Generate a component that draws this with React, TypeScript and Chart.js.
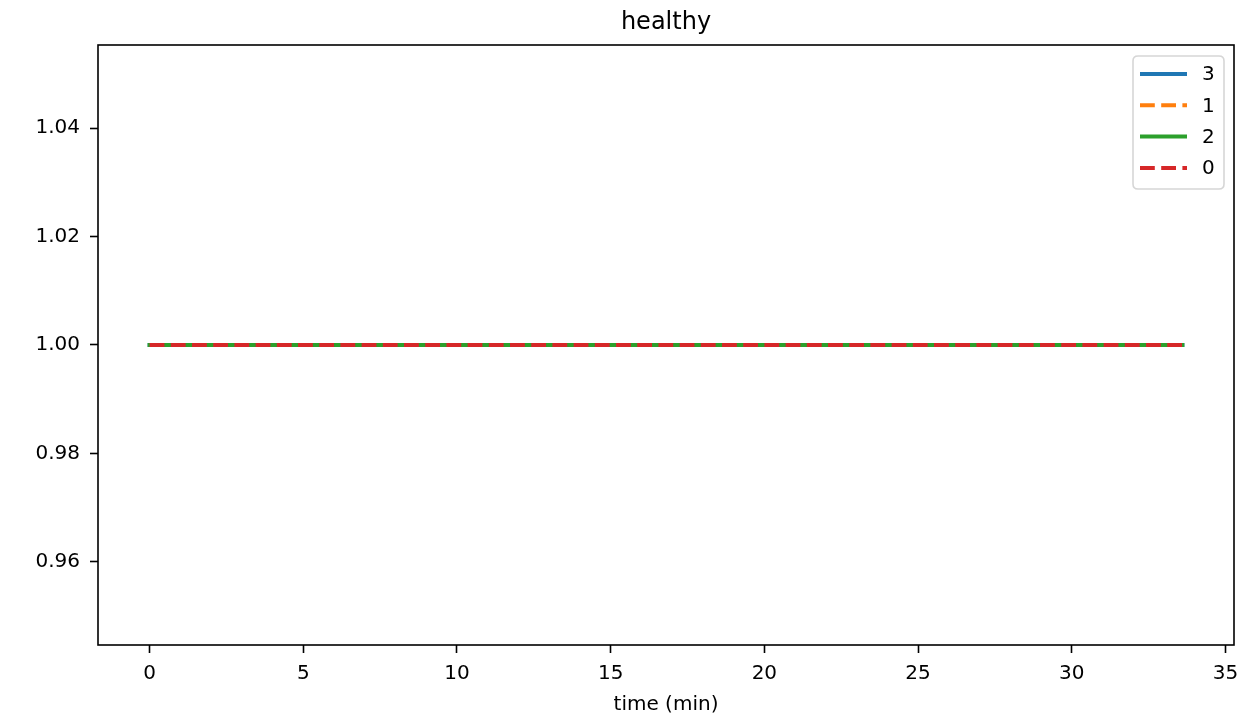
import React, { useEffect, useRef } from 'react';
import { Chart, registerables } from 'chart.js';

Chart.register(...registerables);

const TITLE = 'healthy';
const X_LABEL = 'time (min)';
const timeMin = [0, 2, 4, 6, 8, 10, 12, 14, 16, 18, 20, 22, 24, 26, 28, 30, 32, 33.6];
const series3 = [1, 1, 1, 1, 1, 1, 1, 1, 1, 1, 1, 1, 1, 1, 1, 1, 1, 1];
const series1 = [1, 1, 1, 1, 1, 1, 1, 1, 1, 1, 1, 1, 1, 1, 1, 1, 1, 1];
const series2 = [1, 1, 1, 1, 1, 1, 1, 1, 1, 1, 1, 1, 1, 1, 1, 1, 1, 1];
const series0 = [1, 1, 1, 1, 1, 1, 1, 1, 1, 1, 1, 1, 1, 1, 1, 1, 1, 1];
const seriesLabels = ['3', '1', '2', '0'];
const seriesColors = ['#1f77b4', '#ff7f0e', '#2ca02c', '#d62728'];
const seriesDashed = [false, true, false, true];
const xTicks = [0, 5, 10, 15, 20, 25, 30, 35];
const yTicks = [0.96, 0.98, 1.0, 1.02, 1.04];
const xRange = [-1.68, 35.28];
const yRange = [0.9447, 1.0553];

const FONT = "'DejaVu Sans', sans-serif";
const LW = 4;
const DASH = [14.8, 6.4];

const overlay = {
  id: 'mplOverlay',
  afterDraw(chart: any) {
    const { ctx, chartArea } = chart;
    const { left, right, top, bottom } = chartArea;
    ctx.save();
    // frame
    ctx.strokeStyle = '#000';
    ctx.lineWidth = 1.6;
    ctx.setLineDash([]);
    ctx.strokeRect(left, top, right - left, bottom - top);
    // title
    ctx.fillStyle = '#000';
    ctx.font = `24px ${FONT}`;
    ctx.textAlign = 'center';
    ctx.textBaseline = 'alphabetic';
    ctx.fillText(TITLE, (left + right) / 2, 29);
    // legend
    const bx = 1133, by = 56, bw = 91, bh = 133, r = 5;
    ctx.beginPath();
    ctx.moveTo(bx + r, by);
    ctx.lineTo(bx + bw - r, by);
    ctx.quadraticCurveTo(bx + bw, by, bx + bw, by + r);
    ctx.lineTo(bx + bw, by + bh - r);
    ctx.quadraticCurveTo(bx + bw, by + bh, bx + bw - r, by + bh);
    ctx.lineTo(bx + r, by + bh);
    ctx.quadraticCurveTo(bx, by + bh, bx, by + bh - r);
    ctx.lineTo(bx, by + r);
    ctx.quadraticCurveTo(bx, by, bx + r, by);
    ctx.closePath();
    ctx.fillStyle = 'rgba(255,255,255,0.8)';
    ctx.fill();
    ctx.strokeStyle = '#d6d6d6';
    ctx.lineWidth = 1.6;
    ctx.stroke();
    chart.data.datasets.forEach((ds: any, i: number) => {
      const y = 74 + i * 31.3;
      const dashed = ds.borderDash && ds.borderDash.length;
      ctx.beginPath();
      ctx.strokeStyle = ds.borderColor;
      ctx.lineWidth = LW;
      ctx.lineCap = dashed ? 'butt' : 'square';
      ctx.setLineDash(ds.borderDash || []);
      const x0 = dashed ? 1140 : 1142;
      const x1 = dashed ? 1187 : 1185;
      ctx.moveTo(x0, y);
      ctx.lineTo(x1, y);
      ctx.stroke();
      ctx.setLineDash([]);
      ctx.fillStyle = '#000';
      ctx.font = `20px ${FONT}`;
      ctx.textAlign = 'left';
      ctx.textBaseline = 'middle';
      ctx.fillText(ds.label, 1202, y + 1);
    });
    ctx.restore();
  },
};

export default function App() {
  const ref = useRef<HTMLCanvasElement | null>(null);
  useEffect(() => {
    document.body.style.margin = '0';
    const allSeries = [series3, series1, series2, series0];
    const datasets = allSeries.map((s, i) => ({
      label: seriesLabels[i],
      data: timeMin.map((t, j) => ({ x: t, y: s[j] })),
      borderColor: seriesColors[i],
      backgroundColor: seriesColors[i],
      borderWidth: LW,
      borderDash: seriesDashed[i] ? DASH : [],
      borderCapStyle: seriesDashed[i] ? 'butt' : 'square',
      pointRadius: 0,
      tension: 0,
      fill: false,
      order: allSeries.length - 1 - i,
    }));
    const tickFont = { family: FONT, size: 20 };
    const chart = new Chart(ref.current as HTMLCanvasElement, {
      type: 'line',
      data: { datasets } as any,
      options: {
        animation: false,
        responsive: false,
        maintainAspectRatio: false,
        layout: { padding: { top: 45, right: 9, left: 0, bottom: 0 } },
        plugins: {
          legend: { display: false },
          title: { display: false },
          tooltip: { enabled: false },
        },
        scales: {
          x: {
            type: 'linear',
            min: xRange[0],
            max: xRange[1],
            afterBuildTicks: (s: any) => {
              s.ticks = xTicks.map((v) => ({ value: v }));
            },
            afterFit: (s: any) => {
              s.height = 76;
              s.paddingLeft = 0;
              s.paddingRight = 0;
            },
            grid: { drawOnChartArea: false, drawTicks: true, tickLength: 8, tickWidth: 1.6, tickColor: '#000' },
            border: { display: false },
            ticks: {
              font: tickFont,
              color: '#000',
              padding: 9,
              maxRotation: 0,
              autoSkip: false,
              callback: (v: any) => String(v),
            },
            title: {
              display: true,
              text: X_LABEL,
              font: tickFont,
              color: '#000',
              padding: { top: 0, bottom: 4 },
            },
          },
          y: {
            type: 'linear',
            min: yRange[0],
            max: yRange[1],
            afterBuildTicks: (s: any) => {
              s.ticks = yTicks.map((v) => ({ value: v }));
            },
            afterFit: (s: any) => {
              s.width = 98;
              s.paddingTop = 0;
              s.paddingBottom = 0;
            },
            grid: { drawOnChartArea: false, drawTicks: true, tickLength: 8, tickWidth: 1.6, tickColor: '#000' },
            border: { display: false },
            ticks: {
              font: tickFont,
              color: '#000',
              padding: 10,
              autoSkip: false,
              callback: (v: any) => Number(v).toFixed(2),
            },
          },
        },
      } as any,
      plugins: [overlay],
    });
    return () => chart.destroy();
  }, []);
  return <canvas ref={ref} width={1243} height={721} style={{ display: 'block' }} />;
}
